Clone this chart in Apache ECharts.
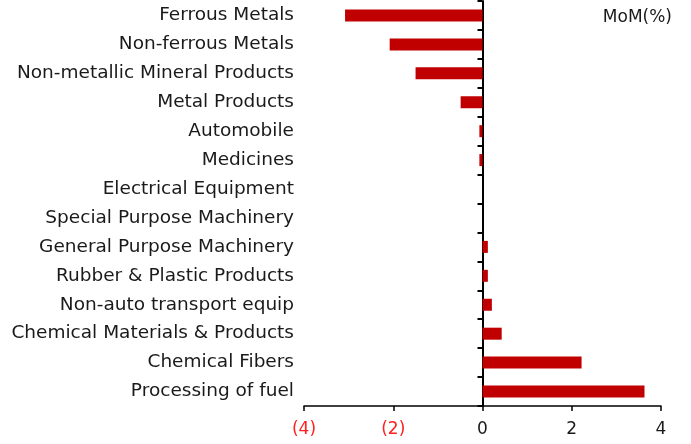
<!DOCTYPE html>
<html>
<head>
<meta charset="utf-8">
<script src="https://cdn.jsdelivr.net/npm/echarts@6/dist/echarts.min.js"></script>
<style>
html, body { margin: 0; padding: 0; background: #fff; }
#chart { width: 691px; height: 444px; }
</style>
</head>
<body>
<div id="chart"></div>
<script>
// 行业分类（从上到下）
var categories = ['Ferrous Metals', 'Non-ferrous Metals', 'Non-metallic Mineral Products', 'Metal Products',
    'Automobile', 'Medicines', 'Electrical Equipment', 'Special Purpose Machinery',
    'General Purpose Machinery', 'Rubber & Plastic Products', 'Non-auto transport equip',
    'Chemical Materials & Products', 'Chemical Fibers', 'Processing of fuel'];
// 环比 (%)
var momValues = [-3.08, -2.08, -1.50, -0.49, -0.07, -0.07, 0, 0, 0.12, 0.12, 0.21, 0.43, 2.22, 3.63];
// x轴刻度
var xTicks = [-4, -2, 0, 2, 4];

var fontName = 'DejaVu Sans, sans-serif';

var myChart = echarts.init(document.getElementById('chart'));

var option = {
    animation: false,
    title: {
        text: 'MoM(%)',
        right: 14,
        top: 4,
        textStyle: {
            color: '#1a1a1a',
            fontWeight: 'normal',
            fontSize: 17,
            fontFamily: fontName
        }
    },
    grid: {
        left: 304,
        right: 30,
        top: 1,
        bottom: 38
    },
    xAxis: {
        type: 'value',
        min: xTicks[0],
        max: xTicks[xTicks.length - 1],
        interval: 2,
        splitLine: { show: false },
        axisLine: { show: true, onZero: false, lineStyle: { color: '#000', width: 1.5 } },
        axisTick: { show: true, length: 5, lineStyle: { color: '#000', width: 1.5 } },
        axisLabel: {
            margin: 15,
            fontSize: 17,
            fontFamily: fontName,
            color: function (v) {
                return v < 0 ? '#ff2020' : '#1a1a1a';
            },
            formatter: function (v) {
                return v < 0 ? '(' + (-v) + ')' : String(v);
            }
        }
    },
    yAxis: [{
        type: 'category',
        data: categories,
        inverse: true,
        position: 'left',
        axisLine: { show: false, onZero: false },
        axisTick: { show: false },
        axisLabel: {
            margin: 10,
            fontSize: 18.5,
            fontFamily: fontName,
            color: '#1a1a1a'
        }
    }, {
        // 零轴线和刻度
        type: 'category',
        data: categories,
        inverse: true,
        position: 'left',
        axisLine: { show: true, onZero: true, lineStyle: { color: '#000', width: 2 } },
        axisTick: { show: true, length: 5, lineStyle: { color: '#000', width: 2 } },
        axisLabel: { show: false }
    }],
    series: [{
        name: 'MoM',
        type: 'bar',
        yAxisIndex: 0,
        barWidth: 12,
        itemStyle: { color: '#c00000' },
        data: momValues
    }]
};

myChart.setOption(option);
</script>
</body>
</html>
